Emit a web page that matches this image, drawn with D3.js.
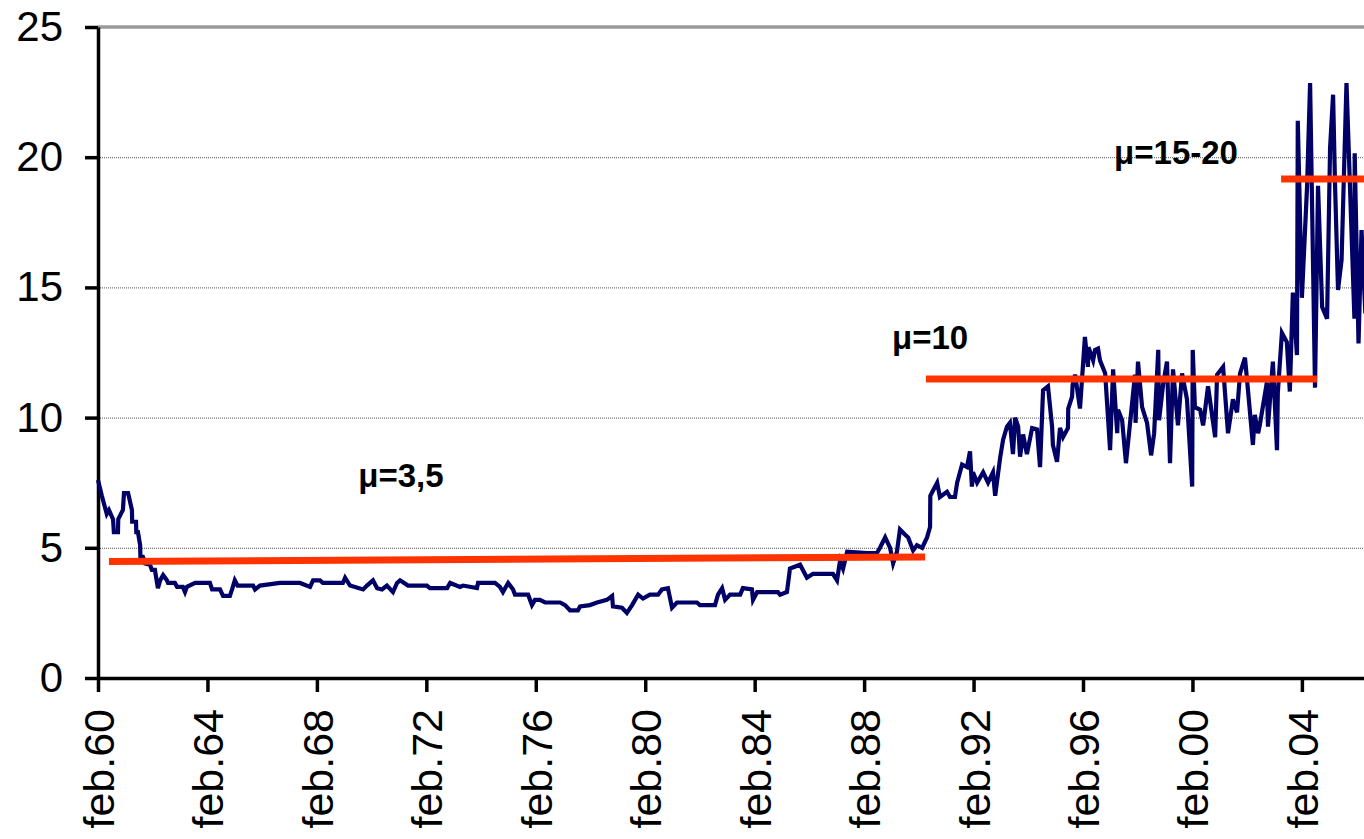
<!DOCTYPE html>
<html>
<head>
<meta charset="utf-8">
<script src="https://cdn.jsdelivr.net/npm/d3@7"></script>
<style>
  body { margin: 0; background: #fff; }
  text { font-family: "Liberation Sans", Arial, sans-serif; }
</style>
</head>
<body>
<svg id="chart" width="1364" height="839"></svg>
<script>
// series, [decimal year, value]
const era60s = [
  [1960.10, 7.6], [1960.24, 7.0], [1960.42, 6.3], [1960.50, 6.45], [1960.65, 6.1], [1960.68, 5.6],
  [1960.83, 5.6], [1960.84, 6.1], [1961.01, 6.45], [1961.05, 7.1], [1961.20, 7.1], [1961.34, 6.45],
  [1961.35, 6.0], [1961.49, 6.0], [1961.50, 5.6], [1961.56, 5.6], [1961.64, 5.1], [1961.65, 4.65],
  [1961.74, 4.65], [1961.82, 4.4], [1962.00, 4.35], [1962.07, 4.15], [1962.18, 4.15], [1962.29, 3.45],
  [1962.37, 3.75], [1962.48, 3.95], [1962.62, 3.75], [1962.66, 3.65], [1962.91, 3.65], [1962.99, 3.5],
  [1963.20, 3.5], [1963.28, 3.3], [1963.35, 3.5], [1963.65, 3.65], [1964.19, 3.65], [1964.27, 3.4],
  [1964.56, 3.4], [1964.67, 3.15], [1964.92, 3.15], [1965.00, 3.4], [1965.10, 3.75], [1965.20, 3.55],
  [1965.77, 3.55], [1965.84, 3.4], [1966.02, 3.55], [1966.75, 3.65], [1967.48, 3.65], [1967.85, 3.5],
  [1967.96, 3.75], [1968.21, 3.75], [1968.32, 3.65], [1969.05, 3.65], [1969.13, 3.85], [1969.31, 3.55],
  [1969.79, 3.4], [1969.93, 3.55]
]
const era70s = [
  [1970.15, 3.75], [1970.30, 3.45], [1970.48, 3.4], [1970.66, 3.55], [1970.88, 3.3], [1971.03, 3.65],
  [1971.14, 3.75], [1971.43, 3.55], [1972.12, 3.55], [1972.23, 3.45], [1972.86, 3.45], [1972.97, 3.65],
  [1973.33, 3.5], [1973.44, 3.55], [1973.95, 3.45], [1973.99, 3.65], [1974.61, 3.65], [1974.79, 3.5],
  [1974.90, 3.3], [1975.09, 3.65], [1975.27, 3.4], [1975.34, 3.2], [1975.82, 3.2], [1975.96, 2.8],
  [1976.07, 3.0], [1976.25, 3.0], [1976.44, 2.9], [1976.99, 2.9], [1977.17, 2.8], [1977.35, 2.6],
  [1977.64, 2.6], [1977.72, 2.75], [1978.08, 2.8], [1978.34, 2.9], [1978.70, 3.0], [1978.89, 3.15],
  [1978.92, 2.75], [1979.25, 2.7], [1979.43, 2.5], [1979.62, 2.8], [1979.84, 3.2]
]
const era80s = [
  [1980.02, 3.05], [1980.27, 3.2], [1980.57, 3.2], [1980.71, 3.4], [1980.93, 3.45], [1981.08, 2.7],
  [1981.26, 2.9], [1981.99, 2.9], [1982.10, 2.8], [1982.65, 2.8], [1982.76, 3.2], [1982.91, 3.45],
  [1983.02, 3.0], [1983.20, 3.2], [1983.57, 3.2], [1983.67, 3.45], [1984.00, 3.4], [1984.04, 3.0],
  [1984.19, 3.3], [1984.95, 3.3], [1985.03, 3.2], [1985.28, 3.3], [1985.39, 4.2], [1985.76, 4.35],
  [1986.01, 3.85], [1986.23, 4.0], [1986.96, 4.0], [1987.11, 3.75], [1987.22, 4.5], [1987.33, 4.2],
  [1987.48, 4.85], [1988.21, 4.8], [1988.57, 4.8], [1988.68, 5.0], [1988.87, 5.4], [1989.05, 5.0],
  [1989.16, 4.4], [1989.30, 4.85], [1989.41, 5.7], [1989.60, 5.5], [1989.71, 5.4], [1989.89, 4.9]
]
const era90s = [
  [1990.03, 5.1], [1990.22, 5.0], [1990.40, 5.4], [1990.51, 5.8], [1990.52, 7.0], [1990.62, 7.2],
  [1990.77, 7.5], [1990.87, 6.95], [1991.13, 7.15], [1991.24, 6.95], [1991.42, 6.95], [1991.50, 7.5],
  [1991.68, 8.2], [1991.86, 8.1], [1991.97, 8.7], [1992.04, 7.35], [1992.08, 7.9], [1992.23, 7.5],
  [1992.45, 7.9], [1992.63, 7.5], [1992.81, 7.9], [1992.89, 7.0], [1993.07, 8.45], [1993.18, 9.15],
  [1993.32, 9.65], [1993.43, 9.8], [1993.54, 8.6], [1993.62, 10.0], [1993.73, 9.65], [1993.80, 8.5],
  [1993.91, 9.35], [1994.05, 8.6], [1994.24, 9.6], [1994.42, 9.55], [1994.53, 8.1], [1994.64, 11.05],
  [1994.82, 11.2], [1994.97, 9.65], [1995.00, 8.95], [1995.15, 8.3], [1995.26, 9.6], [1995.37, 9.25],
  [1995.55, 9.6], [1995.56, 10.35], [1995.70, 10.8], [1995.72, 11.25], [1995.81, 11.65], [1995.99, 10.35],
  [1996.17, 13.1], [1996.28, 11.95], [1996.30, 12.7], [1996.47, 12.2], [1996.54, 12.6], [1996.65, 12.65],
  [1996.72, 12.2], [1996.91, 11.7], [1997.09, 8.75], [1997.20, 11.85], [1997.35, 9.4], [1997.38, 10.3],
  [1997.53, 9.9], [1997.67, 8.25], [1998.00, 11.65], [1998.02, 9.8], [1998.11, 12.15], [1998.26, 10.4],
  [1998.44, 9.8], [1998.59, 8.55], [1998.70, 9.4], [1998.85, 12.6], [1998.88, 9.9], [1999.03, 11.3],
  [1999.17, 12.15], [1999.28, 8.25], [1999.39, 11.85], [1999.57, 9.7], [1999.72, 11.7], [1999.90, 10.7]
]
const era00s = [
  [2000.09, 7.35], [2000.11, 12.6], [2000.19, 10.4], [2000.38, 10.3], [2000.49, 9.7], [2000.67, 11.2],
  [2000.93, 9.25], [2001.00, 11.65], [2001.22, 11.95], [2001.40, 9.4], [2001.58, 10.7], [2001.73, 10.2],
  [2001.84, 11.7], [2002.02, 12.3], [2002.13, 11.05], [2002.31, 8.95], [2002.38, 10.1], [2002.50, 9.4],
  [2002.56, 9.7], [2002.82, 11.35], [2002.86, 9.65], [2003.04, 12.15], [2003.19, 8.75], [2003.22, 10.95],
  [2003.37, 13.25], [2003.55, 12.9], [2003.66, 11.0], [2003.77, 14.8], [2003.92, 12.4], [2003.95, 21.4],
  [2004.10, 14.6], [2004.29, 18.9], [2004.40, 22.85], [2004.58, 11.15], [2004.69, 18.9], [2004.84, 14.25],
  [2005.02, 13.8], [2005.13, 20.35], [2005.24, 22.4], [2005.31, 19.0], [2005.42, 14.9], [2005.55, 16.05],
  [2005.73, 22.85], [2006.02, 13.8], [2006.03, 20.15], [2006.17, 12.85], [2006.28, 17.2], [2006.42, 14.0]
]

// mean levels drawn in red: [from, to, value at from, value at to]
const regimeLines = [
  [1960.50, 1990.33, 4.47, 4.65],
  [1990.36, 2004.65, 11.48, 11.48],
  [2003.34, 2006.50, 19.16, 19.16]
]
// labels: [text, year, value]
const regimeLabels = [
  ["μ=3,5", 1971.17, 7.35],
  ["μ=10", 1990.51, 12.65],
  ["μ=15-20", 1999.5, 19.75]
]

const yTicks = [0, 5, 10, 15, 20, 25]
const xTickYears = [1960.1, 1964.1, 1968.1, 1972.1, 1976.1, 1980.1, 1984.1, 1988.1, 1992.1, 1996.1, 2000.1, 2004.1]
const xTickLabels = ["feb.60", "feb.64", "feb.68", "feb.72", "feb.76", "feb.80", "feb.84", "feb.88", "feb.92", "feb.96", "feb.00", "feb.04"]

const series = [...era60s, ...era70s, ...era80s, ...era90s, ...era00s]

const W = 1364
const svg = d3.select("#chart")

const x = d3.scaleLinear().domain([1960.1, 2006.37]).range([98, W])
const y = d3.scaleLinear().domain([0, 25]).range([678, 27])

// grid
svg.append("g")
  .selectAll("line")
  .data(yTicks.filter((t) => t > 0 && t < 25))
  .join("line")
  .attr("x1", x(1960.1)).attr("x2", W)
  .attr("y1", (d) => y(d) + 0.5).attr("y2", (d) => y(d) + 0.5)
  .attr("stroke", "#555")
  .attr("stroke-width", 1)
  .attr("stroke-dasharray", "1,1")

svg.append("line")
  .attr("x1", x(1960.1)).attr("x2", W)
  .attr("y1", y(25)).attr("y2", y(25))
  .attr("stroke", "#9a9a9a")
  .attr("stroke-width", 3.5)

// axes
const yAxis = svg.append("g")
  .attr("transform", `translate(${x(1960.1)},0)`)
  .call(d3.axisLeft(y).tickValues(yTicks).tickSize(13).tickSizeOuter(0).tickPadding(22))
yAxis.select(".domain").attr("stroke", "#000").attr("stroke-width", 3.5)
yAxis.selectAll(".tick line").attr("stroke", "#000").attr("stroke-width", 3.5)
yAxis.selectAll(".tick text")
  .attr("font-size", 42)
  .attr("fill", "#000")
  .style("font-family", "'Liberation Sans', Arial, sans-serif")

const xAxis = svg.append("g")
  .attr("transform", `translate(0,${y(0)})`)
  .call(d3.axisBottom(x).tickValues(xTickYears).tickFormat((d, i) => xTickLabels[i]).tickSize(14).tickSizeOuter(0))
xAxis.select(".domain").attr("stroke", "#000").attr("stroke-width", 3.5)
xAxis.selectAll(".tick line").attr("stroke", "#000").attr("stroke-width", 3.5)
xAxis.selectAll(".tick text")
  .attr("font-size", 43)
  .attr("fill", "#000")
  .attr("transform", "rotate(-90)")
  .attr("text-anchor", "end")
  .attr("x", -31)
  .attr("y", 0)
  .attr("dy", "0.36em")
  .style("font-family", "'Liberation Sans', Arial, sans-serif")

// the series
const line = d3.line().x((d) => x(d[0])).y((d) => y(d[1]))
svg.append("path")
  .datum(series)
  .attr("d", line)
  .attr("fill", "none")
  .attr("stroke", "#000066")
  .attr("stroke-width", 4.2)
  .attr("stroke-linejoin", "miter")

// mean levels
svg.append("g")
  .selectAll("line")
  .data(regimeLines)
  .join("line")
  .attr("x1", (d) => x(d[0])).attr("x2", (d) => x(d[1]))
  .attr("y1", (d) => y(d[2])).attr("y2", (d) => y(d[3]))
  .attr("stroke", "#ff3300")
  .attr("stroke-width", 7)

svg.append("g")
  .selectAll("text")
  .data(regimeLabels)
  .join("text")
  .attr("x", (d) => x(d[1]))
  .attr("y", (d) => y(d[2]))
  .attr("text-anchor", "middle")
  .attr("font-size", 33)
  .attr("font-weight", "bold")
  .attr("fill", "#000")
  .text((d) => d[0])
</script>
</body>
</html>
